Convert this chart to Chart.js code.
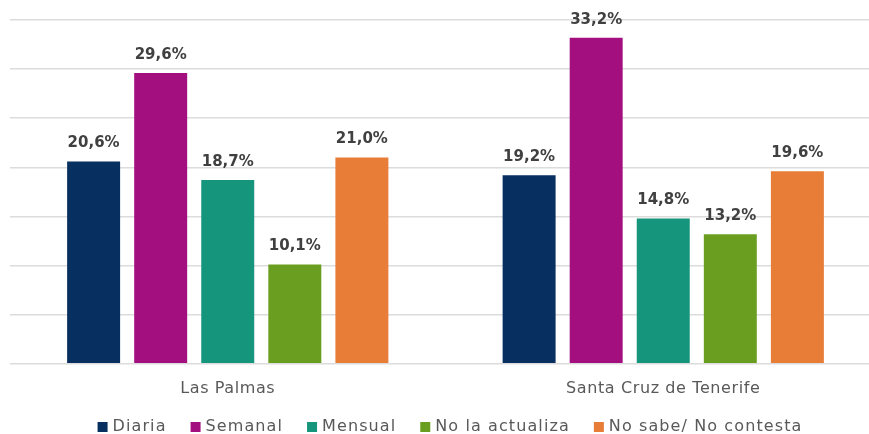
<!DOCTYPE html>
<html>
<head>
<meta charset="utf-8">
<script src="https://cdn.jsdelivr.net/npm/chart.js@4/dist/chart.umd.min.js"></script>
<style>
  html, body { margin: 0; padding: 0; background: #ffffff; overflow: hidden; }
  #wrap { position: relative; width: 881px; height: 434px; }
</style>
</head>
<body>
<div id="wrap"><canvas id="chart"></canvas></div>
<script>
// Frecuencia de actualización por provincia (%)
const provincias = ['Las Palmas', 'Santa Cruz de Tenerife'];
const series = ['Diaria', 'Semanal', 'Mensual', 'No la actualiza', 'No sabe/ No contesta'];
const diaria = [20.6, 19.2];
const semanal = [29.6, 33.2];
const mensual = [18.7, 14.8];
const noActualiza = [10.1, 13.2];
const noSabe = [21.0, 19.6];
const colores = ['#072F5F', '#A40F80', '#15967C', '#6A9E20', '#E87D37'];

const valores = [diaria, semanal, mensual, noActualiza, noSabe];
const FONT = '"DejaVu Sans", "Liberation Sans", sans-serif';

// Espaciado de letras para los textos del eje
const espaciado = {
  id: 'espaciado',
  beforeUpdate(chart) { chart.ctx.letterSpacing = '0.6px'; },
  beforeLayout(chart) { chart.ctx.letterSpacing = '0.6px'; },
  beforeDraw(chart) { chart.ctx.letterSpacing = '0.6px'; }
};

// Etiquetas de valor encima de cada barra
const etiquetasValor = {
  id: 'etiquetasValor',
  afterDatasetsDraw(chart) {
    const ctx = chart.ctx;
    ctx.save();
    ctx.letterSpacing = '0px';
    ctx.font = 'bold 15px ' + FONT;
    ctx.fillStyle = '#404040';
    ctx.textAlign = 'center';
    ctx.textBaseline = 'middle';
    chart.data.datasets.forEach((ds, i) => {
      chart.getDatasetMeta(i).data.forEach((bar, j) => {
        const txt = ds.data[j].toFixed(1).replace('.', ',') + '%';
        ctx.fillText(txt, bar.x, bar.y - 18);
      });
    });
    ctx.restore();
  }
};

// Leyenda dibujada bajo el eje
const leyenda = {
  id: 'leyenda',
  afterDraw(chart) {
    const ctx = chart.ctx;
    ctx.save();
    ctx.letterSpacing = '1.1px';
    ctx.font = '16px ' + FONT;
    ctx.textAlign = 'left';
    ctx.textBaseline = 'middle';
    const box = 10, gapTxt = 5, gapItem = 24;
    const anchos = chart.data.datasets.map(ds => ctx.measureText(ds.label).width);
    const total = anchos.reduce((a, w) => a + box + gapTxt + w, 0) + gapItem * (anchos.length - 1);
    let x = 450 - total / 2;
    const y = 427;
    chart.data.datasets.forEach((ds, i) => {
      ctx.fillStyle = ds.backgroundColor;
      ctx.fillRect(x, y - box / 2, box, box);
      ctx.fillStyle = '#595959';
      ctx.fillText(ds.label, x + box + gapTxt, y);
      x += box + gapTxt + anchos[i] + gapItem;
    });
    ctx.restore();
  }
};

new Chart(document.getElementById('chart'), {
  type: 'bar',
  data: {
    labels: provincias,
    datasets: series.map((nombre, i) => ({
      label: nombre,
      data: valores[i],
      backgroundColor: colores[i],
      borderWidth: 0,
      categoryPercentage: 0.77,
      barPercentage: 0.79
    }))
  },
  options: {
    responsive: true,
    maintainAspectRatio: false,
    animation: false,
    layout: { padding: { left: 10, right: 0, top: 20, bottom: 21 } },
    plugins: {
      legend: { display: false },
      tooltip: { enabled: false }
    },
    scales: {
      x: {
        grid: { display: false, drawTicks: false },
        border: { display: false },
        ticks: {
          padding: 15,
          color: '#595959',
          font: { family: FONT, size: 16 }
        }
      },
      y: {
        min: 0,
        max: 35,
        ticks: { display: false, stepSize: 5 },
        grid: { color: '#dcdcdc', lineWidth: 1.5, drawTicks: false },
        border: { display: false },
        afterFit(axis) { axis.width = 0; }
      }
    }
  },
  plugins: [espaciado, etiquetasValor, leyenda]
});
</script>
</body>
</html>
